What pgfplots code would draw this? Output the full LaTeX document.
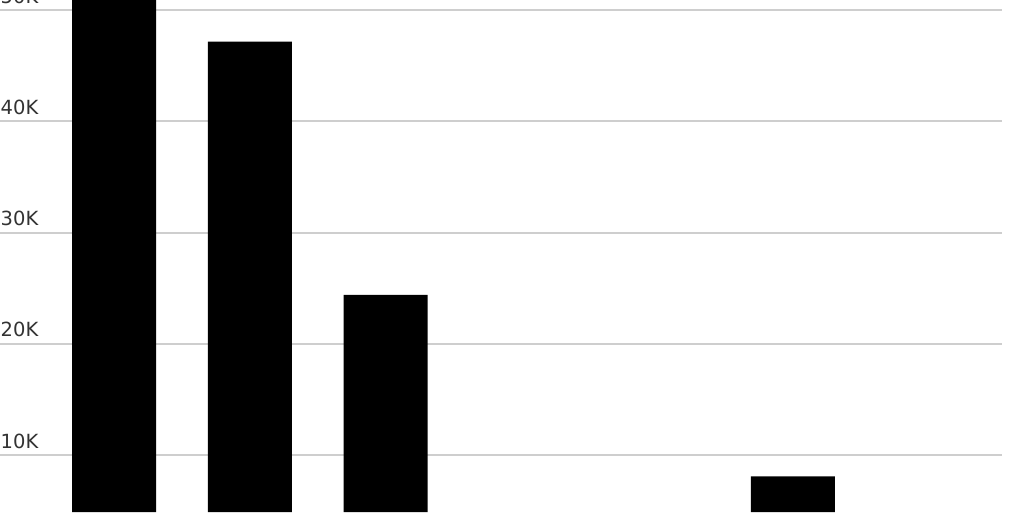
\documentclass[border=0pt]{standalone}
\usepackage{fontspec}
\setmainfont{DejaVu Sans}
\usepackage{pgfplots}
\pgfplotsset{compat=1.18}
\definecolor{gridgray}{RGB}{206,206,206}
\definecolor{labelgray}{RGB}{51,51,51}
\begin{document}
\begin{tikzpicture}
\begin{axis}[
    at={(0pt,0pt)}, anchor=south west,
    scale only axis,
    width=1002pt, height=512pt,
    xmin=-0.8397, xmax=6.540,
    ymin=4906, ymax=50898,
    axis line style={draw=none},
    tick style={draw=none},
    xtick=\empty,
    ytick={10000,20000,30000,40000,50000},
    yticklabels={10K,20K,30K,40K,50K},
    yticklabel style={anchor=south west, inner sep=0pt, xshift=0.5pt, yshift=6.5pt,
        font=\fontsize{19.5}{20}\selectfont, text=labelgray},
    ymajorgrids,
    major grid style={draw=gridgray, line width=2pt},
    ybar, bar width=84pt,
    clip=true,
]
% first bar runs off the top, hidden ones omitted
\addplot[fill=black, draw=none] coordinates {
    (0,56000) (1,47150) (2,24400) (5,8100)
};
\end{axis}
\pgfresetboundingbox
\path[use as bounding box] (0pt,0pt) rectangle (1024pt,512pt);
\end{tikzpicture}
\end{document}
